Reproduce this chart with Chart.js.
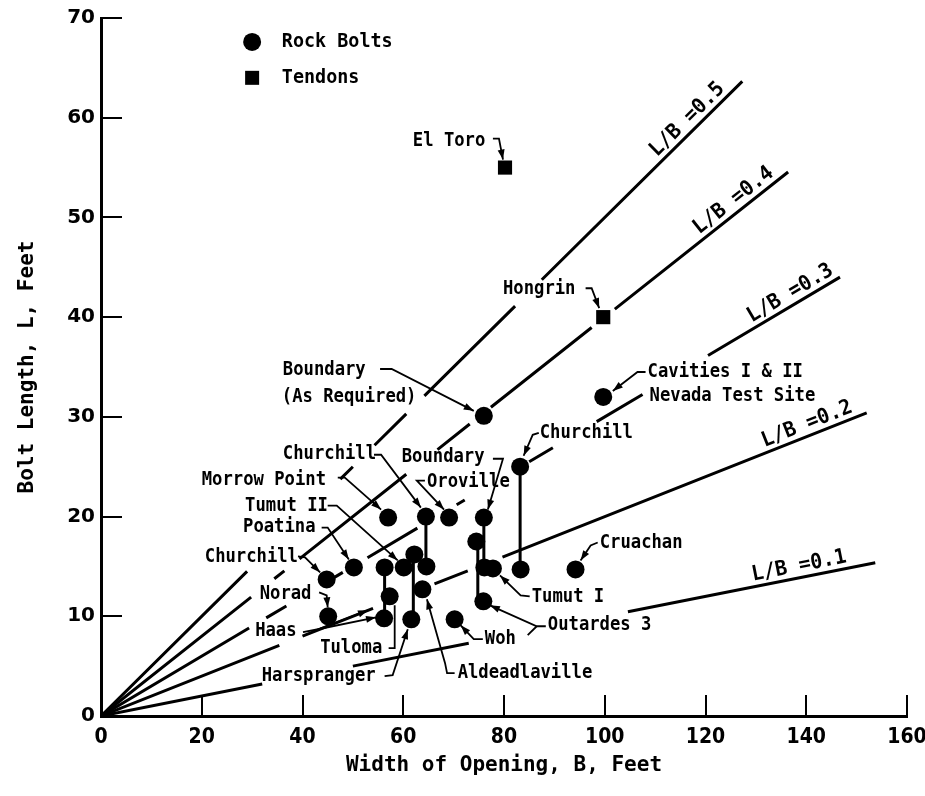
<!DOCTYPE html>
<html>
<head>
<meta charset="utf-8">
<title>Bolt length vs width of opening</title>
<script src="https://cdn.jsdelivr.net/npm/chart.js@4.4.0/dist/chart.umd.min.js"></script>
<style>
  html, body { margin: 0; padding: 0; background: #fff; }
</style>
</head>
<body>
<canvas id="chart" width="925" height="796"></canvas>
<script>
// axis ticks
const xTicks = [0, 20, 40, 60, 80, 100, 120, 140, 160];
const yTicks = [0, 10, 20, 30, 40, 50, 60, 70];

// rock bolts (B = width of opening, L = bolt length, feet)
const rockB = [99.7, 76.0, 83.2, 83.3, 94.2, 57.0, 64.5, 64.6, 69.1, 76.0, 74.5, 76.1, 77.8, 75.9, 44.8, 50.2, 45.1, 56.3, 56.2, 57.3, 60.1, 62.2, 61.6, 63.8, 70.2];
const rockL = [32.0, 30.1, 25.0, 14.7, 14.7, 19.9, 20.0, 15.0, 19.9, 19.9, 17.5, 14.9, 14.8, 11.5, 13.7, 14.9, 10.0, 14.9, 9.8, 12.0, 14.9, 16.2, 9.7, 12.7, 9.7];

// tendons
const tendonB = [80.2, 99.7];
const tendonL = [55.0, 40.0];

// vertical bars joining the range of one project
const stemB = [83.2, 64.5, 76.0, 74.8, 56.3, 62.0];
const stemTop = [25.0, 20.0, 19.9, 17.5, 14.9, 16.2];
const stemBottom = [14.7, 15.0, 14.9, 11.5, 9.8, 9.7];

// L/B reference lines, drawn pieces (B ranges) and where the caption sits
const ratios = [0.5, 0.4, 0.3, 0.2, 0.1];
const ratioSegments = [
  [[0, 29], [47.5, 50], [54.3, 60.6], [64.2, 82.2], [87.5, 127.3]],
  [[0, 29.8], [34.4, 36.4], [39.4, 60.6], [66.8, 73.2], [77.4, 97.4], [102, 136.4]],
  [[0, 29.4], [32.8, 36.8], [46, 48], [52.9, 62.8], [70.6, 72.2], [85, 89.7], [98.4, 107.5], [120.5, 146.7]],
  [[0, 35.4], [40, 54], [66.2, 72.8], [79.7, 152]],
  [[0, 32], [50, 73], [104.6, 153.7]]
];
const ratioLabelB = [118, 127, 138, 141, 139];

// project names with their leaders
const notes = [
  { text: 'El Toro', at: [61.9, 57.7], leader: [[77.8, 57.9], [79.0, 57.9], [79.8, 55.8]], arrow: true },
  { text: 'Hongrin', at: [79.8, 42.8], leader: [[96.2, 42.9], [97.4, 42.9], [98.9, 40.9]], arrow: true },
  { text: 'Cavities I & II', at: [108.5, 34.5], leader: [[108.1, 34.5], [106.5, 34.5], [101.6, 32.6]], arrow: true },
  { text: 'Nevada Test Site', at: [108.9, 32.1] },
  { text: 'Boundary', at: [36.1, 34.7], leader: [[55.4, 34.8], [57.7, 34.8], [74.0, 30.6]], arrow: true },
  { text: '(As Required)', at: [35.9, 32.0] },
  { text: 'Churchill', at: [87.1, 28.4], leader: [[86.9, 28.4], [85.7, 28.2], [83.9, 26.1]], arrow: true },
  { text: 'Cruachan', at: [99.0, 17.4], leader: [[98.6, 17.4], [97.2, 17.1], [95.2, 15.6]], arrow: true },
  { text: 'Churchill', at: [36.1, 26.3], leader: [[54.2, 26.2], [55.6, 26.2], [63.5, 20.9]], arrow: true },
  { text: 'Morrow Point', at: [20.0, 23.7], leader: [[47.0, 23.9], [48.4, 23.9], [55.6, 20.7]], arrow: true },
  { text: 'Boundary', at: [59.7, 26.0], leader: [[77.8, 25.8], [79.8, 25.8], [76.8, 20.7]], arrow: true },
  { text: 'Oroville', at: [64.7, 23.5], leader: [[64.3, 23.6], [62.7, 23.6], [68.1, 20.7]], arrow: true },
  { text: 'Tumut II', at: [28.6, 21.1], leader: [[45.0, 21.1], [46.8, 21.1], [58.9, 15.6]], arrow: true },
  { text: 'Poatina', at: [28.2, 19.0], leader: [[43.8, 18.9], [45.0, 18.9], [49.2, 15.7]], arrow: true },
  { text: 'Churchill', at: [20.6, 16.0], leader: [[39.1, 16.0], [40.5, 15.9], [43.5, 14.4]], arrow: true },
  { text: 'Norad', at: [31.5, 12.3], leader: [[43.3, 12.4], [44.8, 12.1], [45.0, 10.9]], arrow: true },
  { text: 'Haas', at: [30.6, 8.5], leader: [[40.1, 8.4], [43.1, 8.7], [54.6, 9.9]], arrow: true },
  { text: '', at: [43.1, 8.7], leader: [[43.1, 8.7], [53.0, 10.6]], arrow: true },
  { text: 'Tuloma', at: [43.5, 6.8], leader: [[57.1, 6.8], [58.3, 6.8], [58.3, 11.1]] },
  { text: 'Harspranger', at: [31.9, 4.0], leader: [[56.3, 4.0], [57.9, 4.1], [60.9, 8.7]], arrow: true },
  { text: 'Aldeadlaville', at: [70.8, 4.3], leader: [[70.2, 4.3], [68.7, 4.3], [68.3, 5.3], [64.7, 11.7]], arrow: true },
  { text: 'Woh', at: [76.2, 7.7], leader: [[75.8, 7.7], [74.0, 7.7], [71.4, 9.1]], arrow: true },
  { text: 'Tumut I', at: [85.5, 12.0], leader: [[85.1, 12.0], [83.3, 12.1], [79.2, 14.1]], arrow: true },
  { text: 'Outardes 3', at: [88.7, 9.1], leader: [[88.3, 9.0], [86.5, 9.0], [77.2, 11.1]], arrow: true },
  { text: '', at: [86.5, 9.0], leader: [[86.5, 9.0], [84.7, 8.1]] }
];

const SANS = '"DejaVu Sans", sans-serif';
const COND = '"DejaVu Sans Condensed", "DejaVu Sans", sans-serif';
const MONO = '"DejaVu Sans Mono", monospace';

// build datasets
const rockPoints = rockB.map((b, i) => ({ x: b, y: rockL[i] }));
const tendonPoints = tendonB.map((b, i) => ({ x: b, y: tendonL[i] }));

const stemPoints = [];
stemB.forEach((b, i) => {
  stemPoints.push({ x: b, y: stemTop[i] }, { x: b, y: stemBottom[i] }, { x: b, y: null });
});

const ratioSets = ratios.map((k, i) => {
  const pts = [];
  ratioSegments[i].forEach(([b0, b1]) => {
    pts.push({ x: b0, y: k * b0 }, { x: b1, y: k * b1 }, { x: b1, y: null });
  });
  return {
    label: 'L/B = ' + k,
    data: pts,
    showLine: true,
    spanGaps: false,
    borderColor: '#000',
    borderWidth: 3,
    pointRadius: 0,
    fill: false
  };
});

function arrowHead(ctx, x0, y0, x1, y1) {
  const a = Math.atan2(y1 - y0, x1 - x0);
  const len = 10, w = 3.5;
  ctx.beginPath();
  ctx.moveTo(x1, y1);
  ctx.lineTo(x1 - len * Math.cos(a) + w * Math.sin(a), y1 - len * Math.sin(a) - w * Math.cos(a));
  ctx.lineTo(x1 - len * Math.cos(a) - w * Math.sin(a), y1 - len * Math.sin(a) + w * Math.cos(a));
  ctx.closePath();
  ctx.fill();
}

// lettering is tall and narrow, so squeeze a larger font sideways
function narrowText(ctx, str, px, py, squeeze) {
  ctx.save();
  ctx.translate(px, py);
  ctx.scale(squeeze, 1);
  ctx.fillText(str, 0, 0);
  ctx.restore();
}

// inner ticks, captions, leaders and the key
const overlay = {
  id: 'overlay',
  afterDatasetsDraw(chart) {
    const { ctx, chartArea } = chart;
    const x = chart.scales.x, y = chart.scales.y;
    ctx.save();
    ctx.strokeStyle = '#000';
    ctx.fillStyle = '#000';

    // ticks pointing inward
    ctx.lineWidth = 2;
    xTicks.slice(1).forEach(v => {
      const px = Math.round(x.getPixelForValue(v));
      ctx.beginPath();
      ctx.moveTo(px, chartArea.bottom);
      ctx.lineTo(px, chartArea.bottom - 21);
      ctx.stroke();
    });
    yTicks.slice(1).forEach(v => {
      const py = Math.round(y.getPixelForValue(v));
      ctx.beginPath();
      ctx.moveTo(chartArea.left, py);
      ctx.lineTo(chartArea.left + 21, py);
      ctx.stroke();
    });

    // L/B captions along the lines
    ctx.font = 'bold 21px ' + MONO;
    ctx.textAlign = 'center';
    ctx.textBaseline = 'alphabetic';
    ratios.forEach((k, i) => {
      const b = ratioLabelB[i];
      const px = x.getPixelForValue(b), py = y.getPixelForValue(k * b);
      const ang = Math.atan2(y.getPixelForValue(k * (b + 10)) - py, x.getPixelForValue(b + 10) - px);
      ctx.save();
      ctx.translate(px, py);
      ctx.rotate(ang);
      ctx.scale(0.95, 1);
      ctx.fillText('L/B =' + k, 0, -6);
      ctx.restore();
    });

    // names and leaders
    ctx.font = 'bold 20px ' + MONO;
    ctx.textAlign = 'left';
    ctx.textBaseline = 'middle';
    ctx.lineWidth = 1.8;
    notes.forEach(n => {
      if (n.text) narrowText(ctx, n.text, x.getPixelForValue(n.at[0]), y.getPixelForValue(n.at[1]), 0.86);
      if (!n.leader) return;
      const pts = n.leader.map(p => [x.getPixelForValue(p[0]), y.getPixelForValue(p[1])]);
      ctx.beginPath();
      pts.forEach((p, j) => j ? ctx.lineTo(p[0], p[1]) : ctx.moveTo(p[0], p[1]));
      ctx.stroke();
      if (n.arrow) {
        const a = pts[pts.length - 2], b = pts[pts.length - 1];
        arrowHead(ctx, a[0], a[1], b[0], b[1]);
      }
    });

    // key
    const kx = x.getPixelForValue(30.0);
    const tx = x.getPixelForValue(35.9);
    const ky1 = y.getPixelForValue(67.6), ky2 = y.getPixelForValue(64.0);
    ctx.beginPath();
    ctx.arc(kx, ky1, 9, 0, Math.PI * 2);
    ctx.fill();
    ctx.fillRect(kx - 7, ky2 - 7, 14, 14);
    ctx.font = 'bold 20px ' + MONO;
    narrowText(ctx, 'Rock Bolts', tx, ky1, 0.92);
    narrowText(ctx, 'Tendons', tx, ky2, 0.92);
    ctx.restore();
  }
};

new Chart(document.getElementById('chart').getContext('2d'), {
  type: 'scatter',
  data: {
    datasets: [
      {
        label: 'Rock Bolts',
        data: rockPoints,
        pointStyle: 'circle',
        pointRadius: 9,
        backgroundColor: '#000',
        borderColor: '#000',
        borderWidth: 0
      },
      {
        label: 'Tendons',
        data: tendonPoints,
        pointStyle: 'rect',
        pointRadius: 10,
        backgroundColor: '#000',
        borderColor: '#000',
        borderWidth: 0
      },
      {
        label: 'range',
        data: stemPoints,
        showLine: true,
        spanGaps: false,
        borderColor: '#000',
        borderWidth: 3,
        pointRadius: 0
      },
      ...ratioSets
    ]
  },
  options: {
    responsive: false,
    animation: false,
    layout: { padding: { top: 18, right: 18, left: 0, bottom: 0 } },
    plugins: {
      legend: { display: false },
      tooltip: { enabled: false }
    },
    scales: {
      x: {
        type: 'linear',
        min: 0,
        max: 160,
        afterFit: s => { s.height = 80; s.paddingRight = 0; s.paddingLeft = 0; },
        afterBuildTicks: s => { s.ticks = xTicks.map(v => ({ value: v })); },
        grid: { display: false, drawTicks: false },
        border: { display: true, color: '#000', width: 3 },
        ticks: { color: '#000', font: { family: COND, size: 21, weight: 'bold' }, padding: 9, maxRotation: 0, autoSkip: false },
        title: {
          display: true,
          text: 'Width of Opening, B, Feet',
          color: '#000',
          font: { family: MONO, size: 21, weight: 'bold' },
          padding: { top: 0, bottom: 18 }
        }
      },
      y: {
        type: 'linear',
        min: 0,
        max: 70,
        afterFit: s => { s.width = 101; s.paddingTop = 0; s.paddingBottom = 0; },
        afterBuildTicks: s => { s.ticks = yTicks.map(v => ({ value: v })); },
        grid: { display: false, drawTicks: false },
        border: { display: true, color: '#000', width: 3 },
        ticks: { color: '#000', font: { family: SANS, size: 20, weight: 'bold' }, padding: 6, autoSkip: false },
        title: {
          display: true,
          text: 'Bolt Length, L, Feet',
          color: '#000',
          font: { family: MONO, size: 21, weight: 'bold' },
          padding: { top: 15, bottom: 0 }
        }
      }
    }
  },
  plugins: [overlay]
});
</script>
</body>
</html>
